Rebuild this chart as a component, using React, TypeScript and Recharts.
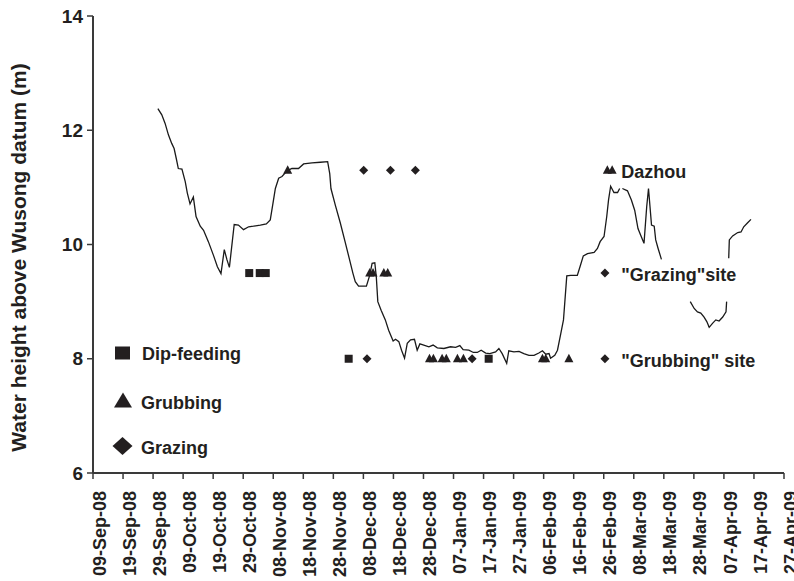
import React from 'react';
import { ComposedChart, Line, Scatter, XAxis, YAxis, Label } from 'recharts';

const FONT = '"Liberation Sans", Arial, Helvetica, sans-serif';
const INK = '#231f20';
const AXIS = '#3a3a3a';

// x axis: days since 09-Sep-08
const tickDays = [0, 10, 20, 30, 40, 50, 60, 70, 80, 90, 100, 110, 120, 130, 140, 150, 160, 170, 180, 190, 200, 210, 220, 230];
const tickLabels = [
  '09-Sep-08', '19-Sep-08', '29-Sep-08', '09-Oct-08', '19-Oct-08', '29-Oct-08', '08-Nov-08', '18-Nov-08',
  '28-Nov-08', '08-Dec-08', '18-Dec-08', '28-Dec-08', '07-Jan-09', '17-Jan-09', '27-Jan-09', '06-Feb-09',
  '16-Feb-09', '26-Feb-09', '08-Mar-09', '18-Mar-09', '28-Mar-09', '07-Apr-09', '17-Apr-09', '27-Apr-09',
];
const levelTicks = [6, 8, 10, 12, 14];

// water level line (null = gap in record)
const lineDays = [
  21.6, 22.9, 24, 25.1, 26.2, 27, 27.7, 28.4, 29.6, 30.7, 31.4, 32.3, 33.4, 34.3, 35.7, 36.8, 38.4, 40.1, 41.4, 42.6,
  43.7, 44.6, 45.4, 47, 48.4, 50.1, 51.8, 53.4, 55.7, 57.7, 59, 59.9, 60.7, 61.8, 62.9, 64.6, 66.2, 68.4, 70.1, 72.9,
  75.7, 78.1, 78.8, 79.2, 80.7, 82.3, 84, 85.7, 86.5, 87.3, 88.4, 91, 92.1, 92.9, 93.8, 94.3, 94.8, 95.9, 97.3, 98.4,
  99.9, 100.7, 101.8, 102.7, 103.7, 104.6, 105.7, 107, 107.9, 108.8, 110.1, 111.8, 113.2, 114.6, 116.8, 119, 120.7, 122.1, 123.2, 125.1,
  126.6, 127.9, 129.2, 130.7, 132.1, 134, 135.1, 136.2, 137.7, 138.4, 140.1, 141.8, 143.4, 145.1, 146.8, 148.4, 149.6, 150.7, 151.8, 152.3,
  153.7, 154.6, 155.7, 156.6, 157.1, 157.7, 159, 161.2, 162.1, 163.2, 164.6, 166.8, 167.9, 168.8, 170.1, 171, 171.6, 172.3, 173.4, 174.6,
  175.3, 175.7, 176.2, 177.9, 179.2, 180.3, 181.4, 182.3, 183.4, 184.3, 184.9, 185.4, 185.9, 186.8, 187.3, 188.1, 189.2, 194, 198.8, 200.1,
  201.2, 202.3, 203.4, 204.3, 205.1, 206.2, 207.3, 208.4, 209.6, 210.7, 210.9, 211.2, 211.6, 211.8, 212.9, 214.6, 215.7, 216.6, 217.9, 219,
];
const lineLevels = [
  12.38, 12.27, 12.12, 11.92, 11.77, 11.68, 11.51, 11.33, 11.32, 11.1, 10.9, 10.71, 10.83, 10.49, 10.32, 10.25, 10.05, 9.81, 9.61, 9.49,
  9.91, 9.73, 9.6, 10.35, 10.34, 10.26, 10.31, 10.32, 10.34, 10.36, 10.43, 10.72, 10.98, 11.16, 11.19, 11.29, 11.33, 11.33, 11.41, 11.43,
  11.44, 11.45, 11.24, 10.98, 10.68, 10.38, 10.03, 9.67, 9.5, 9.35, 9.27, 9.27, 9.46, 9.67, 9.68, 9.43, 9.0, 8.85, 8.68, 8.5,
  8.31, 8.34, 8.3, 8.15, 8.01, 8.27, 8.33, 8.34, 8.15, 8.26, 8.24, 8.21, 8.24, 8.19, 8.18, 8.21, 8.2, 8.23, 8.16, 8.15,
  8.11, 8.11, 8.15, 8.1, 8.09, 8.12, 8.18, 8.09, 7.92, 8.14, 8.12, 8.13, 8.09, 8.06, 8.06, 8.1, 8.14, 8.08, 8.09, 8.01,
  8.06, 8.15, 8.44, 8.68, 9.03, 9.45, 9.46, 9.46, 9.61, 9.8, 9.84, 9.86, 9.93, 10.05, 10.14, 10.49, 10.78, 11.02, 10.91, 10.91,
  10.98, null, 10.98, 10.94, 10.78, 10.6, 10.28, 10.16, 10.02, 10.66, 10.98, 10.66, 10.34, 10.32, 10.08, 9.93, 9.74, null, 9.0, 8.88,
  8.82, 8.8, 8.73, 8.65, 8.55, 8.62, 8.68, 8.66, 8.73, 8.82, 9.0, null, 9.76, 10.08, 10.15, 10.21, 10.22, 10.31, 10.38, 10.44,
];

// observations
const dipDays = [52, 55.5, 57.5, 85.1, 131.7];
const dipLevels = [9.5, 9.5, 9.5, 8, 8];

const grubDays = [64.8, 92.1, 93.2, 96.8, 98.1, 112, 113.3, 116.2, 117.6, 121.3, 123.3, 149.6, 150.7, 158.4, 171.2, 172.8];
const grubLevels = [11.3, 9.5, 9.5, 9.5, 9.5, 8, 8, 8, 8, 8, 8, 8, 8, 8, 11.3, 11.3];

const grazeDays = [90.1, 99, 107.3, 91.2, 126.2, 170.4, 170.4];
const grazeLevels = [11.3, 11.3, 11.3, 8, 8, 9.5, 8];

// site annotations
const noteDays = [175.8, 175.8, 175.8];
const noteLevels = [11.3, 9.5, 8];
const noteTexts = ['Dazhou', '"Grazing"site', '"Grubbing" site'];

const legendNames = ['Dip-feeding', 'Grubbing', 'Grazing'];
const yTitle = 'Water height above Wusong datum (m)';

const lineData = lineDays.map((d, i) => ({ day: d, level: lineLevels[i] }));
const dipData = dipDays.map((d, i) => ({ day: d, level: dipLevels[i] }));
const grubData = grubDays.map((d, i) => ({ day: d, level: grubLevels[i] }));
const grazeData = grazeDays.map((d, i) => ({ day: d, level: grazeLevels[i] }));
const noteData = noteDays.map((d, i) => ({ day: d, level: noteLevels[i], text: noteTexts[i] }));

const SquareShape = (p: any) => (
  <rect x={p.cx - 4} y={p.cy - 4} width={8} height={8} fill={INK} />
);
const TriangleShape = (p: any) => (
  <polygon points={`${p.cx},${p.cy - 5} ${p.cx - 4.5},${p.cy + 3.5} ${p.cx + 4.5},${p.cy + 3.5}`} fill={INK} />
);
const DiamondShape = (p: any) => (
  <polygon points={`${p.cx},${p.cy - 4.5} ${p.cx + 4.5},${p.cy} ${p.cx},${p.cy + 4.5} ${p.cx - 4.5},${p.cy}`} fill={INK} />
);
const NoteShape = (p: any) => (
  <text x={p.cx} y={p.cy + 8} fontSize={18} fontWeight="bold" fontFamily={FONT} fill={INK}>
    {p.payload.text}
  </text>
);

const XTick = (p: any) => {
  const idx = tickDays.indexOf(p.payload.value);
  const label = idx >= 0 ? tickLabels[idx] : '';
  return (
    <text
      x={p.x}
      y={p.y}
      transform={`rotate(-90, ${p.x}, ${p.y})`}
      textAnchor="end"
      dy="0.7em"
      fontSize={18}
      fontWeight="bold"
      fontFamily={FONT}
      fill={INK}
    >
      {label}
    </text>
  );
};

const YTitle = (p: any) => {
  const vb = p.viewBox || { x: 0, y: 16, width: 93, height: 457 };
  const x = vb.x + 26;
  const y = vb.y + vb.height / 2 + 13;
  return (
    <text
      x={x}
      y={y}
      transform={`rotate(-90, ${x}, ${y})`}
      textAnchor="middle"
      fontSize={21}
      fontWeight="bold"
      fontFamily={FONT}
      fill={INK}
    >
      {yTitle}
    </text>
  );
};

const LegendOverlay = () => (
  <svg
    width={180}
    height={140}
    style={{ position: 'absolute', left: 100, top: 330, overflow: 'visible', pointerEvents: 'none' }}
  >
    <rect x={15} y={16.5} width={15} height={13} fill={INK} />
    <text x={42} y={30} fontSize={18} fontWeight="bold" fontFamily={FONT} fill={INK}>{legendNames[0]}</text>
    <polygon points="23,62.5 14,77.5 32,77.5" fill={INK} />
    <text x={41} y={78.5} fontSize={18} fontWeight="bold" fontFamily={FONT} fill={INK}>{legendNames[1]}</text>
    <polygon points="22.5,107 32.5,116 22.5,125 12.5,116" fill={INK} />
    <text x={41} y={124} fontSize={18} fontWeight="bold" fontFamily={FONT} fill={INK}>{legendNames[2]}</text>
  </svg>
);

export default function App() {
  return (
    <div style={{ position: 'absolute', left: 0, top: 0, width: 794, height: 581, background: '#fff', overflow: 'hidden' }}>
      <ComposedChart width={794} height={581} margin={{ top: 16, right: 10, bottom: 0, left: 0 }}>
        <XAxis
          dataKey="day"
          type="number"
          domain={[0, 230]}
          ticks={tickDays}
          interval={0}
          allowDataOverflow
          height={108}
          tickSize={6}
          tickMargin={12}
          tick={<XTick />}
          axisLine={{ stroke: AXIS, strokeWidth: 2 }}
          tickLine={{ stroke: AXIS, strokeWidth: 1.5 }}
        />
        <XAxis
          xAxisId="top"
          orientation="top"
          type="number"
          domain={[0, 230]}
          height={0}
          tick={false}
          tickLine={false}
          axisLine={{ stroke: AXIS, strokeWidth: 2 }}
        />
        <YAxis
          type="number"
          domain={[6, 14]}
          ticks={levelTicks}
          interval={0}
          width={93}
          tickSize={6}
          tickMargin={4}
          tick={{ fontSize: 19, fontWeight: 'bold', fontFamily: FONT, fill: INK }}
          axisLine={{ stroke: AXIS, strokeWidth: 2 }}
          tickLine={{ stroke: AXIS, strokeWidth: 1.5 }}
        >
          <Label content={<YTitle />} />
        </YAxis>
        <YAxis
          yAxisId="right"
          orientation="right"
          type="number"
          domain={[6, 14]}
          width={0}
          tick={false}
          tickLine={false}
          axisLine={{ stroke: AXIS, strokeWidth: 2 }}
        />
        <Line
          data={lineData}
          dataKey="level"
          type="linear"
          stroke="#1a1a1a"
          strokeWidth={1.3}
          dot={false}
          activeDot={false}
          connectNulls={false}
          isAnimationActive={false}
          legendType="none"
        />
        <Scatter name="Dip-feeding" data={dipData} dataKey="level" shape={SquareShape} isAnimationActive={false} />
        <Scatter name="Grubbing" data={grubData} dataKey="level" shape={TriangleShape} isAnimationActive={false} />
        <Scatter name="Grazing" data={grazeData} dataKey="level" shape={DiamondShape} isAnimationActive={false} />
        <Scatter name="notes" data={noteData} dataKey="level" shape={NoteShape} isAnimationActive={false} legendType="none" />
      </ComposedChart>
      <LegendOverlay />
    </div>
  );
}
